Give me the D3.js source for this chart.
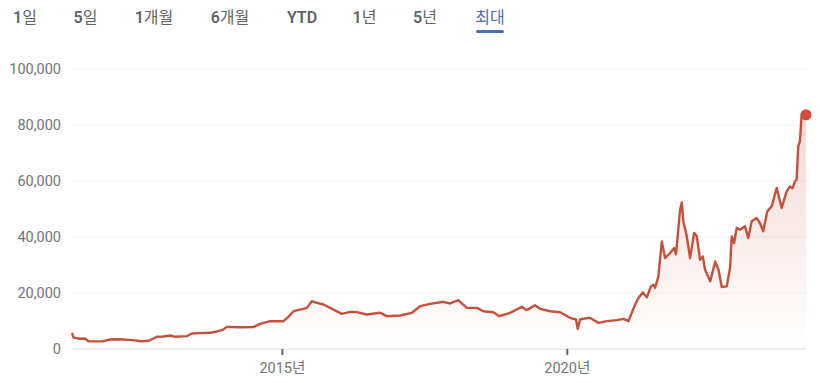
<!DOCTYPE html>
<html>
<head>
<meta charset="utf-8">
<script src="https://cdn.jsdelivr.net/npm/d3@7"></script>
<style>
  html, body { margin: 0; padding: 0; background: #fff; }
  svg { display: block; font-family: Roboto, "Noto Sans CJK KR", "Noto Sans", sans-serif; }
</style>
</head>
<body>
<svg id="chart" width="820" height="383"></svg>
<script>
// ---- data ----
const tabLabels = ["1일", "5일", "1개월", "6개월", "YTD", "1년", "5년", "최대"];
const activeTab = "최대";

const dates = [
  "2011-04-27","2011-05-07","2011-06-17","2011-07-19","2011-08-10","2011-09-20","2011-11-13","2011-12-27",
  "2012-02-03","2012-03-22","2012-05-16","2012-07-17","2012-09-02","2012-10-22","2012-12-02",
  "2013-01-16","2013-02-17","2013-05-02","2013-06-03","2013-07-27","2013-09-28","2013-11-12","2013-12-22",
  "2014-01-13","2014-04-09","2014-07-02","2014-08-14","2014-10-18",
  "2015-01-11","2015-02-10","2015-03-16","2015-05-19","2015-06-10","2015-07-12","2015-08-08","2015-09-25","2015-11-06",
  "2016-01-20","2016-03-13","2016-04-25","2016-06-28","2016-09-22","2016-11-04",
  "2017-01-28","2017-04-13","2017-06-05","2017-08-08","2017-11-01","2017-12-14",
  "2018-02-05","2018-03-31","2018-06-03","2018-07-15","2018-09-17","2018-10-26",
  "2019-01-02","2019-03-18","2019-04-19","2019-06-11","2019-07-14","2019-09-16","2019-11-19",
  "2020-01-21","2020-02-29","2020-03-11","2020-03-26","2020-05-19","2020-05-30","2020-07-22","2020-09-14","2020-11-17","2020-12-29",
  "2021-01-30","2021-03-14","2021-04-04","2021-05-02","2021-05-28","2021-06-23","2021-07-09","2021-07-20","2021-08-10","2021-09-01","2021-09-22","2021-10-24","2021-11-19","2021-12-01","2021-12-27",
  "2022-01-07","2022-01-17","2022-02-08","2022-03-01","2022-03-27","2022-04-13","2022-05-04","2022-05-22","2022-06-05","2022-07-08","2022-08-09","2022-08-30","2022-09-20","2022-10-22","2022-11-12","2022-11-23","2022-12-08","2022-12-25",
  "2023-01-15","2023-02-16","2023-03-09","2023-03-31","2023-05-02","2023-05-23","2023-06-13","2023-07-09","2023-08-06","2023-09-07","2023-10-09","2023-11-10","2023-12-01","2023-12-18",
  "2024-01-02","2024-01-13","2024-01-23","2024-02-03","2024-02-14","2024-03-13"
];
const prices = [
  5400,3700,3290,3400,2430,2350,2430,3040,
  3100,3040,2800,2430,2600,4000,4100,
  4460,4000,4230,5180,5300,5420,5900,6600,
  7560,7400,7440,8630,9580,
  9580,11000,13140,14000,14330,16710,16200,15530,14330,
  12210,12900,12800,11960,12570,11360,
  11600,12570,14930,15770,16500,15900,
  17070,14330,14330,13140,12780,11360,
  12540,14710,13520,15300,13990,13140,12780,
  10780,10180,6840,10180,10780,10700,8980,9580,9940,10420,
  9580,15530,17860,19860,18100,22000,22600,21500,25570,38070,32140,33930,35700,33500,49390,
  52000,45200,39870,32140,41070,39900,31500,32700,27960,23800,30900,27960,21800,22000,28570,39870,37500,42860,
  42260,43450,39290,45240,46400,44640,41670,48800,50600,57140,50000,55950,57700,57100,
  59500,60100,72000,73800,83300,83300
];
const yTicks = [0, 20000, 40000, 60000, 80000, 100000];
const xTickDates = ["2015-01-01", "2020-01-01"];
const xTickLabels = ["2015년", "2020년"];

// ---- setup ----
const parse = d3.timeParse("%Y-%m-%d");
const data = dates.map((d, i) => ({ date: parse(d), value: prices[i] }));

const svg = d3.select("#chart");
const lineColor = "#c5503c";

const x = d3.scaleTime()
  .domain(d3.extent(data, d => d.date))
  .range([72, 806]);
const y = d3.scaleLinear()
  .domain([0, 100000])
  .range([348, 68]);

// ---- tabs ----
const tabX = { "1일": 25, "5일": 85.5, "1개월": 154, "6개월": 230, "YTD": 302, "1년": 364.5, "5년": 425, "최대": 490 };
const tabText = svg.append("g").selectAll("text")
  .data(tabLabels)
  .join("text")
  .attr("x", d => tabX[d])
  .attr("y", 23)
  .attr("text-anchor", "middle")
  .attr("font-size", 16)
  .attr("fill", d => d === activeTab ? "#4a6db8" : "#5f6368");
tabText.each(function(d) {
  const runs = d.match(/[\x00-\x7F]+|[^\x00-\x7F]+/g);
  const t = d3.select(this);
  runs.forEach(r => {
    t.append("tspan")
      .attr("font-weight", /^[\x00-\x7F]+$/.test(r) ? 600 : 400)
      .text(r);
  });
});
svg.append("rect")
  .attr("x", tabX[activeTab] - 14).attr("y", 30)
  .attr("width", 28).attr("height", 3)
  .attr("rx", 1.5)
  .attr("fill", "#4a6db8");

// ---- y axis + grid ----
const yAxis = d3.axisLeft(y)
  .tickValues(yTicks)
  .tickSize(-(806 - 72))
  .tickPadding(11)
  .tickFormat(d3.format(","));
const gy = svg.append("g").attr("transform", "translate(72,0.5)").call(yAxis);
gy.select(".domain").remove();
gy.selectAll(".tick line")
  .attr("stroke", d => d === 0 ? "#dadce0" : "#f1f3f4")
  .attr("stroke-width", 1);
gy.selectAll(".tick text")
  .attr("font-size", 14.5)
  .attr("fill", "#70757a")
  .attr("font-family", "Roboto, 'Noto Sans CJK KR', sans-serif")
  .attr("dy", "0.35em");

// ---- area + line ----
const defs = svg.append("defs");
const grad = defs.append("linearGradient")
  .attr("id", "fillGrad")
  .attr("gradientUnits", "userSpaceOnUse")
  .attr("x1", 0).attr("x2", 0)
  .attr("y1", y(d3.max(prices))).attr("y2", y(0));
grad.append("stop").attr("offset", "0%").attr("stop-color", lineColor).attr("stop-opacity", 0.22);
grad.append("stop").attr("offset", "100%").attr("stop-color", lineColor).attr("stop-opacity", 0);

const area = d3.area()
  .x(d => x(d.date))
  .y0(y(0))
  .y1(d => y(d.value));
svg.append("path")
  .datum(data)
  .attr("d", area)
  .attr("fill", "url(#fillGrad)");

const line = d3.line()
  .x(d => x(d.date))
  .y(d => y(d.value));
svg.append("path")
  .datum(data)
  .attr("d", line)
  .attr("fill", "none")
  .attr("stroke", lineColor)
  .attr("stroke-width", 2.4)
  .attr("stroke-linejoin", "round");

const last = data[data.length - 1];
svg.append("circle")
  .attr("cx", x(last.date))
  .attr("cy", y(last.value))
  .attr("r", 5.5)
  .attr("fill", "#cf4b3b");

// ---- x axis ----
const xAxis = d3.axisBottom(x)
  .tickValues(xTickDates.map(parse))
  .tickSize(6)
  .tickPadding(8)
  .tickFormat((d, i) => xTickLabels[i]);
const gx = svg.append("g").attr("transform", "translate(0,349)").call(xAxis);
gx.select(".domain").remove();
gx.selectAll(".tick line")
  .attr("stroke", "#5f6368")
  .attr("stroke-width", 2);
gx.selectAll(".tick text")
  .attr("font-size", 14.5)
  .attr("fill", "#70757a")
  .attr("font-family", "Roboto, 'Noto Sans CJK KR', sans-serif");
</script>
</body>
</html>
